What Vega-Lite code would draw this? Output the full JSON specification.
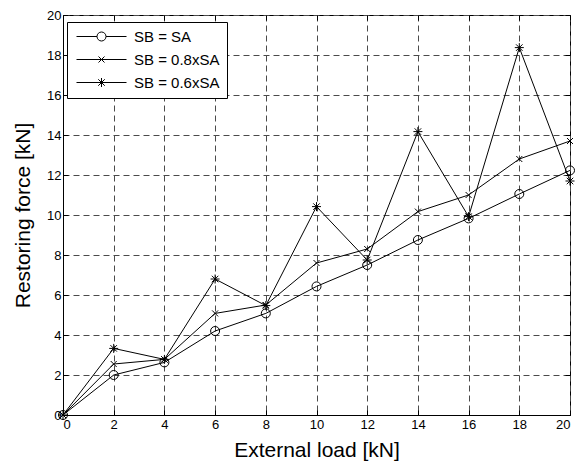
{
  "$schema": "https://vega.github.io/schema/vega-lite/v6.json",
  "width": 507,
  "height": 400,
  "autosize": {"type": "none"},
  "padding": {"left": 63, "top": 15, "right": 12, "bottom": 56},
  "background": "white",
  "config": {
    "font": "Liberation Sans",
    "view": {"stroke": "black", "strokeWidth": 1},
    "axis": {
      "domainColor": "black",
      "tickColor": "black",
      "labelColor": "black",
      "titleColor": "black",
      "labelFont": "Liberation Sans",
      "titleFont": "Liberation Sans",
      "labelFontSize": 13,
      "titleFontSize": 21,
      "titleFontWeight": "normal",
      "gridColor": "#4a4a4a",
      "gridDash": [6, 4],
      "gridOpacity": 1,
      "tickSize": -5
    }
  },
  "data": {
    "values": [
      {"x": 0, "y": 0, "s": "SB = SA"},
      {"x": 2, "y": 2.0, "s": "SB = SA"},
      {"x": 4, "y": 2.63, "s": "SB = SA"},
      {"x": 6, "y": 4.2, "s": "SB = SA"},
      {"x": 8, "y": 5.08, "s": "SB = SA"},
      {"x": 10, "y": 6.43, "s": "SB = SA"},
      {"x": 12, "y": 7.5, "s": "SB = SA"},
      {"x": 14, "y": 8.75, "s": "SB = SA"},
      {"x": 16, "y": 9.83, "s": "SB = SA"},
      {"x": 18, "y": 11.05, "s": "SB = SA"},
      {"x": 20, "y": 12.23, "s": "SB = SA"},
      {"x": 0, "y": 0, "s": "SB = 0.8xSA"},
      {"x": 2, "y": 2.55, "s": "SB = 0.8xSA"},
      {"x": 4, "y": 2.78, "s": "SB = 0.8xSA"},
      {"x": 6, "y": 5.08, "s": "SB = 0.8xSA"},
      {"x": 8, "y": 5.5, "s": "SB = 0.8xSA"},
      {"x": 10, "y": 7.6, "s": "SB = 0.8xSA"},
      {"x": 12, "y": 8.3, "s": "SB = 0.8xSA"},
      {"x": 14, "y": 10.17, "s": "SB = 0.8xSA"},
      {"x": 16, "y": 11.0, "s": "SB = 0.8xSA"},
      {"x": 18, "y": 12.8, "s": "SB = 0.8xSA"},
      {"x": 20, "y": 13.7, "s": "SB = 0.8xSA"},
      {"x": 0, "y": 0, "s": "SB = 0.6xSA"},
      {"x": 2, "y": 3.33, "s": "SB = 0.6xSA"},
      {"x": 4, "y": 2.78, "s": "SB = 0.6xSA"},
      {"x": 6, "y": 6.8, "s": "SB = 0.6xSA"},
      {"x": 8, "y": 5.47, "s": "SB = 0.6xSA"},
      {"x": 10, "y": 10.42, "s": "SB = 0.6xSA"},
      {"x": 12, "y": 7.75, "s": "SB = 0.6xSA"},
      {"x": 14, "y": 14.17, "s": "SB = 0.6xSA"},
      {"x": 16, "y": 9.92, "s": "SB = 0.6xSA"},
      {"x": 18, "y": 18.37, "s": "SB = 0.6xSA"},
      {"x": 20, "y": 11.7, "s": "SB = 0.6xSA"}
    ]
  },
  "layer": [
    {
      "mark": {"type": "line", "color": "black", "strokeWidth": 1},
      "encoding": {
        "x": {"field": "x", "type": "quantitative",
          "scale": {"domain": [0, 20], "nice": false},
          "axis": {"values": [0,2,4,6,8,10,12,14,16,18,20], "title": "External load [kN]", "grid": true, "labelPadding": 8, "titlePadding": 8}},
        "y": {"field": "y", "type": "quantitative",
          "scale": {"domain": [0, 20], "nice": false},
          "axis": {"values": [0,2,4,6,8,10,12,14,16,18,20], "title": "Restoring force [kN]", "grid": true, "labelPadding": 7, "titlePadding": 13}},
        "detail": {"field": "s"}
      }
    },
    {
      "mark": {"type": "point", "filled": false, "stroke": "black", "strokeWidth": 1, "size": 100, "opacity": 1},
      "encoding": {
        "x": {"field": "x", "type": "quantitative", "axis": null},
        "y": {"field": "y", "type": "quantitative", "axis": null},
        "shape": {"field": "s", "type": "nominal",
          "scale": {"domain": ["SB = SA", "SB = 0.8xSA", "SB = 0.6xSA"],
            "range": [
              "M-0.9,0A0.9,0.9 0 1,0 0.9,0A0.9,0.9 0 1,0 -0.9,0Z",
              "M-0.6,-0.6L0.6,0.6M-0.6,0.6L0.6,-0.6",
              "M-0.9,0H0.9M0,-0.9V0.9M-0.65,-0.65L0.65,0.65M-0.65,0.65L0.65,-0.65"
            ]},
          "legend": null}
      }
    },
    {
      "mark": {"type": "point", "filled": false, "stroke": "black", "strokeWidth": 1, "size": 100, "opacity": 0},
      "encoding": {
        "x": {"field": "x", "type": "quantitative",
          "axis": {"orient": "top", "values": [0,2,4,6,8,10,12,14,16,18,20], "labels": false, "grid": false, "domain": false, "title": null}},
        "y": {"field": "y", "type": "quantitative",
          "axis": {"orient": "right", "values": [0,2,4,6,8,10,12,14,16,18,20], "labels": false, "grid": false, "domain": false, "title": null}},
        "shape": {"field": "s", "type": "nominal",
          "scale": {"domain": ["SB = SA", "SB = 0.8xSA", "SB = 0.6xSA"],
            "range": [
              "M-5,0H-0.9M0.9,0H5M-0.9,0A0.9,0.9 0 1,0 0.9,0A0.9,0.9 0 1,0 -0.9,0Z",
              "M-5,0H5M-0.6,-0.6L0.6,0.6M-0.6,0.6L0.6,-0.6",
              "M-5,0H5M0,-0.9V0.9M-0.65,-0.65L0.65,0.65M-0.65,0.65L0.65,-0.65"
            ]},
          "legend": {
            "title": null,
            "orient": "none",
            "legendX": 4,
            "legendY": 7,
            "symbolSize": 100,
            "symbolOpacity": 1,
            "symbolStrokeColor": "black",
            "symbolFillColor": "transparent",
            "symbolStrokeWidth": 1,
            "symbolOffset": 20,
            "labelOffset": 25,
            "labelFontSize": 15,
            "labelFont": "Liberation Sans",
            "labelColor": "black",
            "labelLimit": 300,
            "rowPadding": 7,
            "padding": 7,
            "strokeColor": "black",
            "fillColor": "white"
          }}
      }
    }
  ],
  "resolve": {
    "scale": {"shape": "independent"},
    "axis": {"x": "independent", "y": "independent"}
  }
}
